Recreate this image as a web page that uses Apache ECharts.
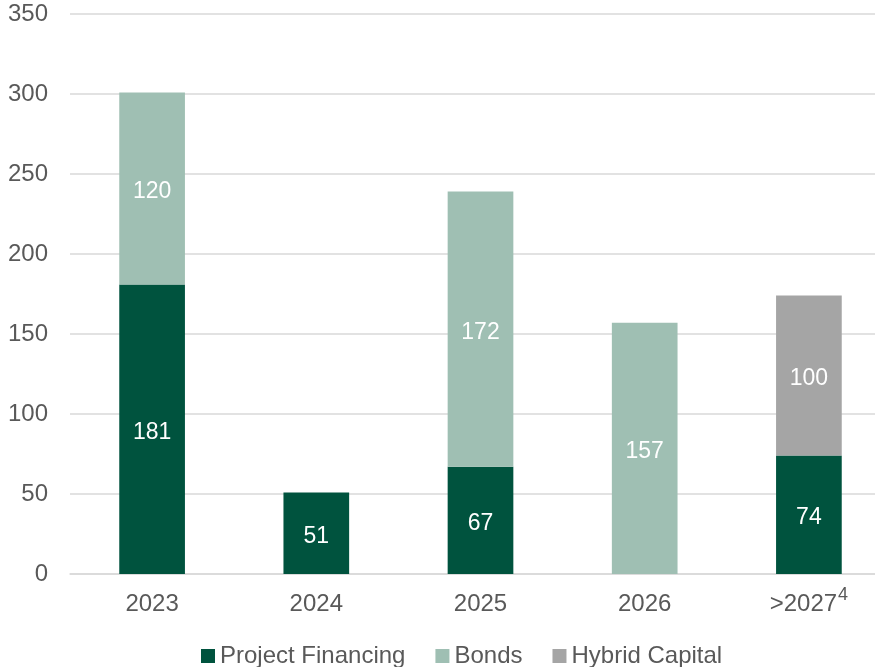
<!DOCTYPE html>
<html>
<head>
<meta charset="utf-8">
<script src="https://cdn.jsdelivr.net/npm/echarts@6/dist/echarts.min.js"></script>
<style>
  html, body { margin: 0; padding: 0; background: #fff; }
  #chart { width: 875px; height: 667px; }
</style>
</head>
<body>
<div id="chart"></div>
<script>
// Maturity profile by year (values in millions)
const categories = ['2023', '2024', '2025', '2026', '>2027'];
const categoryNotes = { '>2027': '4' };
const projectFinancing = [181, 51, 67, null, 74];
const bonds = [120, null, 172, 157, null];
const hybridCapital = [null, null, null, null, 100];
const yTicks = { min: 0, max: 350, interval: 50 };

const FONT = '"Liberation Sans", Arial, sans-serif';
const TEXT_GREY = '#595959';
const chart = echarts.init(document.getElementById('chart'));

const labelStyle = {
  show: true,
  position: 'inside',
  offset: [0, 3],
  color: '#ffffff',
  fontSize: 23,
  fontFamily: FONT
};

chart.setOption({
  animation: false,
  textStyle: { fontFamily: FONT },
  // plot area runs past the right edge of the canvas
  grid: { left: 70, width: 821, top: 14, bottom: 93, outerBoundsMode: 'none', containLabel: false },
  legend: {
    top: 639,
    left: 196,
    itemWidth: 14,
    itemHeight: 14,
    itemGap: 30,
    icon: 'rect',
    textStyle: { color: TEXT_GREY, fontSize: 24, fontFamily: FONT },
    data: ['Project Financing', 'Bonds', 'Hybrid Capital']
  },
  xAxis: {
    type: 'category',
    data: categories,
    axisTick: { show: false },
    axisLine: { lineStyle: { color: '#D9D9D9', width: 1.5 } },
    axisLabel: {
      interval: 0,
      margin: 12,
      formatter: function (v) {
        // every label shares the same line box so the footnote mark does not shift its baseline
        return '{m|' + v + '}' + (categoryNotes[v] ? '{sup|' + categoryNotes[v] + '}' : '');
      },
      rich: {
        m: { fontSize: 24, lineHeight: 36, color: TEXT_GREY, fontFamily: FONT },
        sup: { fontSize: 18, lineHeight: 18, color: TEXT_GREY, fontFamily: FONT, verticalAlign: 'top', padding: [0, 0, 18, 1] }
      }
    }
  },
  yAxis: {
    type: 'value',
    min: yTicks.min,
    max: yTicks.max,
    interval: yTicks.interval,
    axisLine: { show: false },
    axisTick: { show: false },
    splitLine: { lineStyle: { color: '#D9D9D9', width: 1.5 } },
    axisLabel: { color: TEXT_GREY, fontSize: 24, fontFamily: FONT, margin: 22 }
  },
  series: [
    {
      name: 'Project Financing',
      type: 'bar',
      stack: 'total',
      barWidth: '40%',
      data: projectFinancing,
      itemStyle: { color: '#00533E' },
      label: labelStyle
    },
    {
      name: 'Bonds',
      type: 'bar',
      stack: 'total',
      data: bonds,
      itemStyle: { color: '#9FBFB3' },
      label: labelStyle
    },
    {
      name: 'Hybrid Capital',
      type: 'bar',
      stack: 'total',
      data: hybridCapital,
      itemStyle: { color: '#A5A5A5' },
      label: labelStyle
    }
  ]
});
</script>
</body>
</html>
